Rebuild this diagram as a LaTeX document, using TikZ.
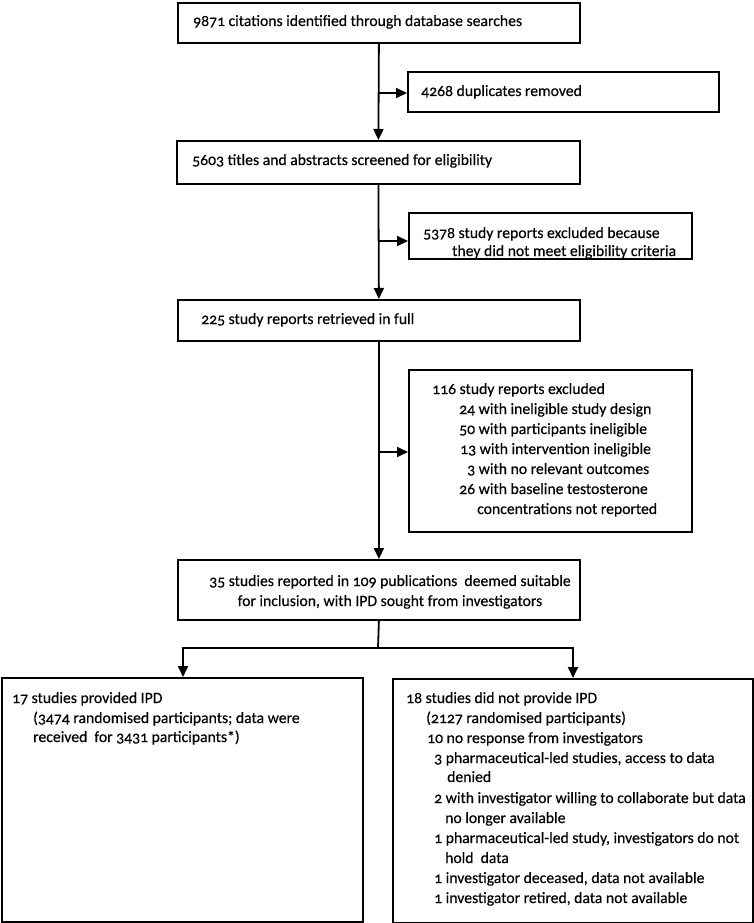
\documentclass[tikz,border=0pt]{standalone}
\usepackage{fontspec}
\setmainfont{Carlito}[Numbers=OldStyle,FakeBold=0.35,UprightFeatures={FakeBold=0.35}]
\usetikzlibrary{arrows.meta,calc}
\begin{document}
\begin{tikzpicture}[x=1pt,y=-1pt,
  box/.style={draw, line width=1.8pt, inner sep=0pt, anchor=north west},
  txt/.style={anchor=base west, inner sep=0pt, font=\fontsize{15.7}{20}\selectfont},
  ctxt/.style={anchor=base, inner sep=0pt, font=\fontsize{15.7}{20}\selectfont},
  arr/.style={line width=1.8pt, -{Triangle[length=11pt,width=10pt]}},
  ln/.style={line width=1.8pt}]
\useasboundingbox (0,0) rectangle (754,923);
% boxes
\node[box, minimum width=402pt, minimum height=40pt] (b1) at (177,2) {};
\node[box, minimum width=311pt, minimum height=40pt] (dup) at (407,71) {};
\node[box, minimum width=403pt, minimum height=43pt] (b2) at (176,140) {};
\node[box, minimum width=283pt, minimum height=46pt] (ex1) at (408,212) {};
\node[box, minimum width=402pt, minimum height=41pt] (b3) at (177,299) {};
\node[box, minimum width=283pt, minimum height=162pt] (ex2) at (408,369) {};
\node[box, minimum width=402pt, minimum height=60pt] (b4) at (177,559) {};
\node[box, minimum width=361pt, minimum height=244pt] (lb) at (1,677) {};
\node[box, minimum width=360pt, minimum height=244pt] (rb) at (392,678) {};
% texts
\node[txt] (t1) at (193,26) {9871 citations identified through database searches};
\node[txt] (td) at (421,96) {4268 duplicates removed};
\node[txt] (t2) at (192,165) {5603 titles and abstracts screened for eligibility};
\node[txt] (te1a) at (423,238) {5378 study reports excluded because};
\node[txt] (te1b) at (452,256) {they did not meet eligibility criteria};
\node[txt] (t3) at (201,324) {225 study reports retrieved in full};
\node[txt] (te2a) at (432,394) {116 study reports excluded};
\node[txt] (te2b) at (459,414) {24 with ineligible study design};
\node[txt] (te2c) at (459,434) {50 with participants ineligible};
\node[txt] (te2d) at (460,454) {13 with intervention ineligible};
\node[txt] (te2e) at (467,474) {3 with no relevant outcomes};
\node[txt] (te2f) at (459,494) {26 with baseline testosterone};
\node[txt] (te2g) at (477,514) {concentrations not reported};
\node[ctxt] (t4a) at (390,586) {35 studies reported in 109 publications\ \ deemed suitable};
\node[ctxt] (t4b) at (390,606) {for inclusion, with IPD sought from investigators};
\node[txt] (tla) at (12,703) {17 studies provided IPD};
\node[txt] (tlb) at (33,723) {(3474 randomised participants; data were};
\node[txt] (tlc) at (33,742) {received\ \ for 3431 participants*)};
\node[txt] (tra) at (406,703) {18 studies did not provide IPD};
\node[txt] (trb) at (426,723) {(2127 randomised participants)};
\node[txt] (trc) at (427,743) {10 no response from investigators};
\node[txt] (trd) at (434,763) {3 pharmaceutical-led studies, access to data};
\node[txt] (tre) at (447,782) {denied};
\node[txt] (trf) at (434,803) {2 with investigator willing to collaborate but data};
\node[txt] (trg) at (445,823) {no longer available};
\node[txt] (trh) at (434,843) {1 pharmaceutical-led study, investigators do not};
\node[txt] (tri) at (445,863) {hold\ \ data};
\node[txt] (trj) at (434,883) {1 investigator deceased, data not available};
\node[txt] (trk) at (434,903) {1 investigator retired, data not available};
% connectors
\draw[arr] (b1.south) -- (b2.north);
\coordinate (j1) at (378,93);
\draw[arr] (j1) -- (j1 -| dup.west);
\draw[arr] (b2.south) -- (b3.north);
\coordinate (j2) at (378,241);
\draw[arr] (j2) -- (j2 -| ex1.west);
\draw[arr] (b3.south) -- (b4.north);
\coordinate (j3) at (378,452);
\draw[arr] (j3) -- (j3 -| ex2.west);
\coordinate (s) at (378,648);
\coordinate (sl) at (183,648);
\coordinate (sr) at (573,648);
\draw[ln] (b4.south) -- (s);
\draw[arr] (s) -- (sl) -- (sl |- lb.north);
\draw[arr] (s) -- (sr) -- (sr |- rb.north);
\end{tikzpicture}
\end{document}
